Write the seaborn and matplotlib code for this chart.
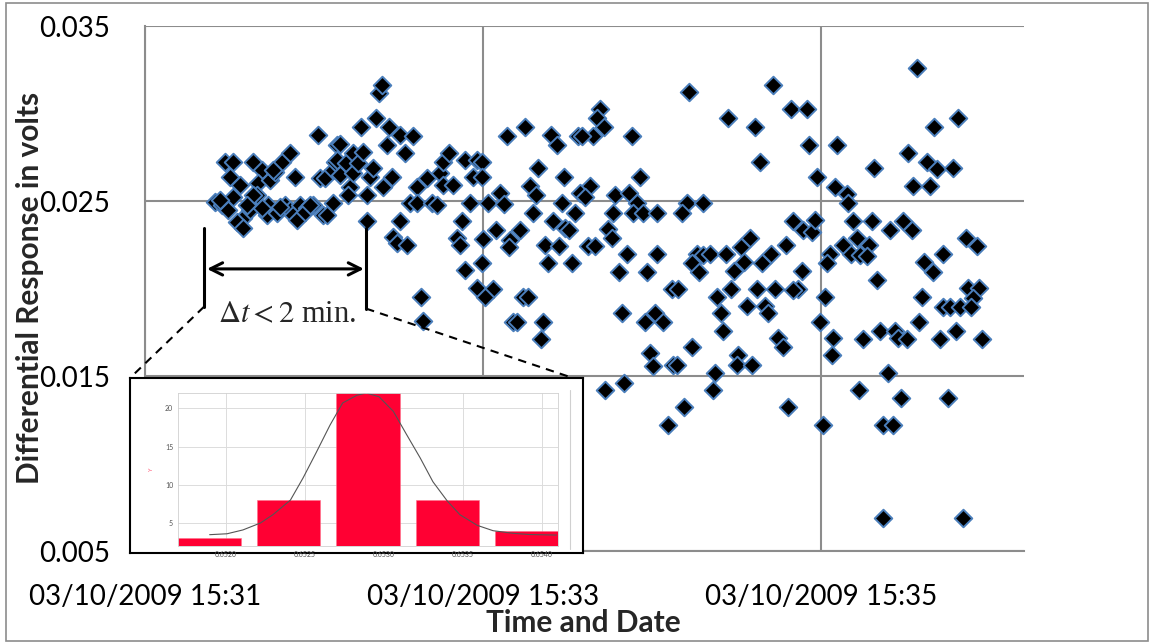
import matplotlib
matplotlib.use("Agg")
import matplotlib.pyplot as plt
import seaborn as sns
import pandas as pd
from matplotlib.patches import Rectangle
from matplotlib.lines import Line2D

# Lecturas: segundos despues de 15:31:00 y respuesta diferencial en voltios
t_a = [24.9, 27.3, 29.5, 28.4, 31.2, 30.2, 33.7, 31.2, 34.8, 32.7,
       34.8, 37.3, 38.3, 41.5, 40.1, 39.8, 43.7, 43.3, 46.9, 44.4,
       46.2, 48.6, 51.5, 53.3, 49.7, 51.5, 52.5, 54.0, 55.0, 57.5,
       59.6, 61.4, 62.1, 63.9, 63.2, 66.7, 66.7, 67.5, 68.2, 45.4,
       38.3, 47.9, 64.6, 68.2, 26.6, 36.2, 41.5, 56.8, 58.6]
v_a = [0.02494, 0.02477, 0.02449, 0.02723, 0.02723, 0.02637, 0.02591, 0.02523, 0.02403, 0.02380,
       0.02346, 0.02449, 0.02723, 0.02677, 0.02603, 0.02534, 0.02477, 0.02420, 0.02431, 0.02620,
       0.02666, 0.02723, 0.02774, 0.02637, 0.02477, 0.02449, 0.02420, 0.02391, 0.02477, 0.02460,
       0.02477, 0.02877, 0.02631, 0.02631, 0.02420, 0.02489, 0.02677, 0.02723, 0.02820, 0.02677,
       0.02534, 0.02466, 0.02420, 0.02734, 0.02506, 0.02477, 0.02460, 0.02437, 0.02477]

t_b = [69.2, 69.2, 71.4, 72.8, 72.1, 73.8, 73.8, 75.6, 76.7, 77.4,
       78.8, 78.8, 79.9, 80.9, 82.0, 83.1, 84.1, 84.5, 85.9, 86.6,
       87.7, 88.0, 89.5, 90.5, 90.5, 92.3, 93.0, 94.1, 95.1, 96.6,
       96.6, 98.0, 98.7, 100.1, 101.9, 103.7, 104.7, 105.8, 105.8, 107.9,
       109.3, 110.8, 111.8, 112.5, 113.6, 113.6, 115.4, 116.4, 117.9, 117.9]
v_b = [0.02825, 0.02648, 0.02717, 0.02580, 0.02534, 0.02774, 0.02660, 0.02717, 0.02923, 0.02780,
       0.02534, 0.02386, 0.02637, 0.02688, 0.02974, 0.03117, 0.03162, 0.02580, 0.02820, 0.02923,
       0.02637, 0.02294, 0.02260, 0.02877, 0.02386, 0.02774, 0.02249, 0.02489, 0.02871, 0.02580,
       0.02489, 0.01952, 0.01815, 0.02631, 0.02489, 0.02477, 0.02660, 0.02723, 0.02591, 0.02774,
       0.02591, 0.02289, 0.02249, 0.02386, 0.02734, 0.02106, 0.02489, 0.02637, 0.02734, 0.02003]

t_c = [161.5, 160.5, 162.9, 159.0, 153.7, 155.1, 144.1, 146.3, 134.9, 128.5,
       172.9, 139.5, 148.7, 175.7, 119.6, 119.6, 126.0, 121.8, 127.4, 136.7,
       138.8, 148.0, 158.0, 154.4, 156.2, 166.9, 171.8, 174.7, 137.7, 152.7,
       166.1, 173.2, 176.8, 181.8, 124.6, 133.1, 120.0, 129.6, 129.2, 144.8,
       149.1, 150.5, 142.0, 147.0, 157.3, 159.8, 164.4, 165.8, 171.1, 181.8,
       119.6, 143.1, 151.6, 168.3, 178.2, 123.5, 120.7, 134.2, 136.0, 130.6,
       132.1, 141.3, 140.6, 169.3, 177.5, 181.1, 179.3, 180.3, 163.3, 170.0]
v_c = [0.03025, 0.02974, 0.02923, 0.02871, 0.02871, 0.02871, 0.02877, 0.02820, 0.02923, 0.02871,
       0.02871, 0.02688, 0.02637, 0.02637, 0.02723, 0.02637, 0.02546, 0.02489, 0.02483, 0.02586,
       0.02534, 0.02489, 0.02586, 0.02546, 0.02523, 0.02534, 0.02546, 0.02489, 0.02431, 0.02431,
       0.02431, 0.02431, 0.02431, 0.02431, 0.02334, 0.02334, 0.02283, 0.02277, 0.02237, 0.02386,
       0.02346, 0.02334, 0.02249, 0.02243, 0.02243, 0.02243, 0.02340, 0.02289, 0.02197, 0.02197,
       0.02146, 0.02146, 0.02146, 0.02094, 0.02094, 0.01997, 0.01952, 0.01952, 0.01952, 0.01809,
       0.01809, 0.01809, 0.01712, 0.01860, 0.01809, 0.01860, 0.01632, 0.01558, 0.01421, 0.01461]

t_d = [193.1, 222.9, 207.0, 216.6, 229.3, 235.0, 235.7, 218.3, 238.6, 245.7,
       245.0, 192.4, 190.6, 198.1, 230.0, 233.6, 236.8, 237.9, 214.8, 211.6,
       227.6, 196.0, 198.1, 200.6, 194.2, 196.7, 206.3, 209.1, 212.6, 219.0,
       222.2, 233.2, 243.2, 242.1, 187.1, 189.2, 208.0, 203.1, 217.3, 223.7,
       231.8, 230.0, 241.4, 183.9, 204.5, 213.7, 220.1, 221.2, 205.2, 194.2,
       224.7, 226.5, 239.6, 244.2, 243.9, 210.5, 210.2, 215.5, 187.4, 188.9,
       202.4, 201.6, 191.3, 185.7, 228.3, 240.7]
v_d = [0.03122, 0.03162, 0.02974, 0.02923, 0.03025, 0.03025, 0.02820, 0.02723, 0.02637, 0.02820,
       0.02580, 0.02489, 0.02431, 0.02489, 0.02386, 0.02334, 0.02323, 0.02391, 0.02289, 0.02237,
       0.02249, 0.02197, 0.02192, 0.02197, 0.02146, 0.02094, 0.02197, 0.02100, 0.02152, 0.02146,
       0.02197, 0.02100, 0.02197, 0.02146, 0.01997, 0.01997, 0.01997, 0.01952, 0.01997, 0.01997,
       0.01997, 0.01992, 0.01952, 0.01809, 0.01860, 0.01900, 0.01900, 0.01860, 0.01758, 0.01666,
       0.01718, 0.01666, 0.01809, 0.01718, 0.01620, 0.01620, 0.01564, 0.01564, 0.01564, 0.01564,
       0.01518, 0.01421, 0.01324, 0.01221, 0.01324, 0.01221]

t_e = [274.1, 288.6, 280.1, 270.9, 277.6, 281.2, 286.8, 258.8, 272.6,
       278.7, 249.2, 249.6, 251.3, 258.1, 264.5, 269.1, 272.3, 291.5,
       295.4, 247.8, 252.8, 257.0, 250.6, 253.8, 256.3, 276.5, 279.7, 283.3,
       259.9, 275.8, 292.2, 296.1, 293.9, 283.3, 285.8, 289.3, 293.2, 254.9,
       260.9, 266.3, 267.3, 270.5, 274.8, 282.2, 287.9, 297.1, 263.8, 253.5,
       268.4, 285.1, 262.0, 265.5, 262.0, 290.4]
v_e = [0.03260, 0.02974, 0.02923, 0.02774, 0.02723, 0.02683, 0.02688, 0.02688, 0.02586,
       0.02586, 0.02540, 0.02489, 0.02386, 0.02386, 0.02334, 0.02386, 0.02334, 0.02289,
       0.02243, 0.02249, 0.02289, 0.02249, 0.02197, 0.02192, 0.02186, 0.02152, 0.02094, 0.02197,
       0.02049, 0.01952, 0.02003, 0.02003, 0.01946, 0.01895, 0.01895, 0.01895, 0.01895, 0.01712,
       0.01758, 0.01758, 0.01718, 0.01712, 0.01809, 0.01712, 0.01758, 0.01712, 0.01518, 0.01421,
       0.01375, 0.01375, 0.01221, 0.01221, 0.00690, 0.00690]

tick_secs = [0, 120, 240]
tick_labels = ["03/10/2009 15:31", "03/10/2009 15:33", "03/10/2009 15:35"]
y_ticks = [0.005, 0.015, 0.025, 0.035]

# Histograma del recuadro
hist_centers = [0.6519, 0.6524, 0.6529, 0.6534, 0.6539]
hist_counts = [3, 8, 22, 8, 4]
hist_ticks = [0.6520, 0.6525, 0.6530, 0.6535, 0.6540]
curve_x = [0.65190, 0.65201, 0.65211, 0.65222, 0.65230, 0.65241, 0.65249, 0.65257,
           0.65266, 0.65274, 0.65283, 0.65289, 0.65297, 0.65306, 0.65314, 0.65323,
           0.65331, 0.65340, 0.65348, 0.65359, 0.65369, 0.65382, 0.65392, 0.65409]
curve_y = [3.48, 3.6, 4.1, 5.0, 6.1, 8.0, 10.9, 14.1,
           17.8, 20.7, 21.7, 22.0, 21.5, 19.6, 16.7, 13.5,
           10.4, 7.9, 6.1, 4.7, 4.0, 3.65, 3.5, 3.43]

sns.set_theme(style="white")
plt.rcParams['font.family'] = ['Lato', 'DejaVu Sans']
plt.rcParams['mathtext.fontset'] = 'stix'

df = pd.DataFrame({
    't': t_a + t_b + t_c + t_d + t_e,
    'v': v_a + v_b + v_c + v_d + v_e,
})

W, H = 1153, 644
fig = plt.figure(figsize=(W / 100, H / 100), dpi=100)
ax = fig.add_axes([145 / W, 1 - 551 / H, 879 / W, 525 / H])

gris = '#8c8c8c'
sns.scatterplot(data=df, x='t', y='v', marker='D', s=80, color='black',
                edgecolor='#4a7ebb', linewidth=1.4, ax=ax, zorder=3)

ax.set_xlim(0, 312)
ax.set_ylim(0.005, 0.035)
ax.set_xticks(tick_secs)
ax.set_xticklabels(tick_labels)
ax.set_yticks(y_ticks)
ax.set_yticklabels([f"{y:.3f}" for y in y_ticks])
ax.grid(True, color=gris, linewidth=1.5)
ax.set_axisbelow(True)
for lado in ['top', 'right']:
    ax.spines[lado].set_visible(False)
for lado in ['left', 'bottom']:
    ax.spines[lado].set_color(gris)
    ax.spines[lado].set_linewidth(1.5)
ax.tick_params(axis='both', direction='out', length=7, width=1.5, color=gris,
               labelsize=20, labelcolor='black', pad=17)
ax.tick_params(axis='y', pad=18)

ax.set_xlabel("Time and Date", fontsize=21.5, fontweight='bold')
ax.set_ylabel("Differential Response in volts", fontsize=21.5, fontweight='bold')
ax.xaxis.set_label_coords(0.499, -0.11)
ax.yaxis.set_label_coords(-0.115, 0.501)

# Anotacion del intervalo
x_izq, x_der = 20.9, 78.5
y_arriba, y_abajo = 0.02346, 0.01895
ax.plot([x_izq, x_izq], [y_arriba, y_abajo], color='black', lw=2.2, zorder=4)
ax.plot([x_der, x_der], [y_arriba, y_abajo - 0.0001], color='black', lw=2.2, zorder=4)
ax.annotate('', xy=(77.7, 0.02112), xytext=(22.0, 0.02112),
            arrowprops=dict(arrowstyle='<->', color='black', lw=2.2,
                            mutation_scale=22, shrinkA=0, shrinkB=0), zorder=4)
ax.text(50.5, 0.01849, r'$\Delta t < 2$ min.', ha='center', va='center',
        fontsize=22, family='Liberation Serif', zorder=4)
ax.plot([x_izq, -5.3], [y_abajo, 0.01489], color='black', lw=1.5,
        ls=(0, (4, 3)), clip_on=False, zorder=4)
ax.plot([x_der, 150.9], [y_abajo - 0.0001, 0.01494], color='black', lw=1.5,
        ls=(0, (4, 3)), clip_on=False, zorder=4)

# Recuadro con el histograma
caja = fig.add_axes([130 / W, 1 - 553 / H, 453 / W, 175 / H], zorder=5)
caja.set_facecolor('white')
caja.set_xticks([])
caja.set_yticks([])
for s in caja.spines.values():
    s.set_color('black')
    s.set_linewidth(1.5)
fig.add_artist(Line2D([570 / W, 570 / W], [1 - 549 / H, 1 - 390 / H],
                      transform=fig.transFigure, color='#d0d0d0', lw=0.8, zorder=6))

ins = fig.add_axes([178 / W, 1 - 546 / H, 380 / W, 153 / H], zorder=6)
sns.barplot(x=hist_centers, y=hist_counts, native_scale=True, width=0.8,
            color='#ff0033', saturation=1, edgecolor='#ff6f8a', linewidth=0.4, ax=ins)
sns.lineplot(x=curve_x, y=curve_y, color='#555555', lw=0.8, ax=ins)
ins.set_xlim(0.6517, 0.6541)
ins.set_ylim(2, 22)
ins.set_xticks(hist_ticks)
ins.set_xticklabels([f"{v:.4f}" for v in hist_ticks])
ins.set_yticks([5, 10, 15, 20])
ins.tick_params(axis='both', labelsize=5, labelcolor='#555555', length=2,
                width=0.4, color='#bbbbbb', pad=1.5)
ins.grid(True, color='#dcdcdc', linewidth=0.7)
ins.set_axisbelow(True)
for s in ins.spines.values():
    s.set_color('#d0d0d0')
    s.set_linewidth(0.6)
ins.set_ylabel('Y', color='#ff5070', fontsize=4, labelpad=8)

# Borde del area del grafico
fig.add_artist(Rectangle((6 / W, 3 / H), 1142 / W, 638 / H, transform=fig.transFigure,
                         fill=False, edgecolor=gris, lw=1.2))

fig.savefig('out.png', dpi=100)
